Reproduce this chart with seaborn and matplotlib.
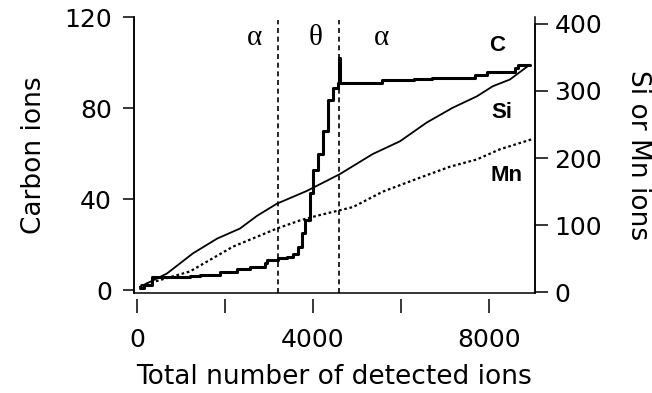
import numpy as np
import pandas as pd
import seaborn as sns
import matplotlib.pyplot as plt

# values
c_x = [60, 150, 340, 1200, 1210, 1430, 1890, 2270, 2570, 2910, 2950, 3200, 3410, 3550, 3660,
       3750, 3820, 3930, 4000, 4110, 4230, 4340, 4455, 4570, 4590, 4615, 5570, 6300, 6700,
       7680, 7950, 8590, 8660, 8930]
c_y = [1, 2, 5.7, 5.7, 6.2, 6.6, 7.9, 9.2, 10, 11.9, 13.2, 14, 14.5, 16, 19,
       25, 30.8, 42.6, 52.7, 60, 70, 83.5, 89, 91, 102, 91, 92.3, 92.7, 93.2,
       94.5, 96, 97.6, 99, 99]

si_x = [60, 680, 1270, 1820, 2340, 2730, 3180, 3860, 4610, 5360, 5980, 6590, 7180, 7730,
        8090, 8480, 8930]
si_y = [8, 28, 58, 80, 95, 114, 132, 151, 176, 206, 225, 253, 275, 292, 307, 317, 339]

mn_x = [80, 1200, 2180, 3180, 3700, 4090, 4910, 5590, 6360, 7110, 7730, 8250, 8980]
mn_y = [10, 31, 68, 95, 107, 114, 127, 150, 169, 187, 198, 213, 228]

phase_bounds = [3200, 4590]
phase_names = ['α', 'θ', 'α']
phase_x = [2680, 4050, 5570]

series_names = ['C', 'Si', 'Mn']
series_label_x = [8180, 8290, 8410]
series_label_y = [107.7, 78.2, 50.5]

c_df = pd.DataFrame({'ions': c_x, 'count': c_y})
si_df = pd.DataFrame({'ions': si_x, 'count': si_y})
mn_df = pd.DataFrame({'ions': mn_x, 'count': mn_y})

sns.set_style('ticks', {'axes.edgecolor': 'black', 'text.color': 'black',
                        'xtick.color': 'black', 'ytick.color': 'black',
                        'axes.labelcolor': 'black'})
plt.rcParams['font.family'] = ['DejaVu Sans']
plt.rcParams['axes.linewidth'] = 1.1

fig = plt.figure(figsize=(6.52, 3.93), dpi=100)
ax = fig.add_axes([0.2055, 0.2545, 0.615, 0.702])
ax2 = ax.twinx()

sns.lineplot(data=c_df, x='ions', y='count', ax=ax, color='black', lw=2.2,
             drawstyle='steps-post', estimator=None, sort=False)
sns.lineplot(data=si_df, x='ions', y='count', ax=ax2, color='black', lw=1.3,
             estimator=None)
sns.lineplot(data=mn_df, x='ions', y='count', ax=ax2, color='black', lw=1.6,
             linestyle=(0, (1.2, 1.2)), estimator=None)

for xb in phase_bounds:
    ax.axvline(xb, color='black', lw=1.2, ls=(0, (3, 2.2)), ymax=0.99)
for xp, name in zip(phase_x, phase_names):
    ax.text(xp, 110.8, name, fontsize=21, ha='center', va='center',
            family=['Liberation Serif', 'DejaVu Serif'])

for xs, ys, name in zip(series_label_x, series_label_y, series_names):
    ax.text(xs, ys, name, fontsize=16, fontweight='bold', ha='center', va='center',
            family=['Liberation Sans', 'DejaVu Sans'])

ax.set_xlim(-70, 9050)
ax.set_ylim(-1.3, 120)
ax2.set_ylim(-1, 410)

ax.set_xticks([0, 2000, 4000, 6000, 8000])
ax.set_xticklabels(['0', '', '4000', '', '8000'])
ax.set_yticks([0, 40, 80, 120])
ax2.set_yticks([0, 100, 200, 300, 400])

ax.spines['top'].set_visible(False)
ax2.spines['top'].set_visible(False)
ax.spines['bottom'].set_position(('outward', 4))
ax.spines['bottom'].set_visible(False)
ax2.spines['right'].set_bounds(-1, 400)

ax.tick_params(axis='x', direction='out', length=10, width=1.1, labelsize=18, pad=11)
ax.tick_params(axis='y', direction='out', length=8, width=1.1, labelsize=18, pad=8)
ax2.tick_params(axis='y', direction='out', length=9, width=1.1, labelsize=18, pad=5)

ax.set_xlabel('Total number of detected ions', fontsize=19, labelpad=9)
ax.set_ylabel('Carbon ions', fontsize=19, labelpad=12)
ax2.set_ylabel('Si or Mn ions', fontsize=19, rotation=270, labelpad=35)

fig.savefig('out.png', dpi=100)
